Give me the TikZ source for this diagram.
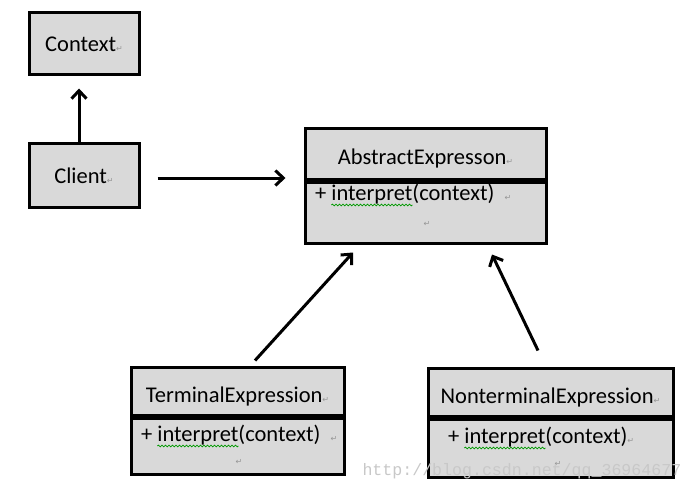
\documentclass[tikz,border=0pt]{standalone}
\usepackage{fontspec}
\setmainfont{Carlito}
\setmonofont{Liberation Mono}
\newfontfamily\markfont{DejaVu Sans}
\usetikzlibrary{arrows.meta,calc,decorations.pathmorphing}
\definecolor{boxgray}{RGB}{217,217,217}
\definecolor{markgray}{RGB}{150,150,150}
\definecolor{wmgray}{RGB}{200,200,200}
\newcommand{\pmark}{{\markfont\fontsize{8}{8}\selectfont\color{markgray}↵}}
% one member line: prefix, position, tail
\newcommand{\method}[3]{%
  \node[txt, anchor=base west] (#1plus) at #2 {+\kern0.23em};
  \node[txt, anchor=base west] (#1name) at (#1plus.base east) {interpret};
  \node[txt, anchor=base west] (#1args) at (#1name.base east) {(context)#3};
  \draw[wave] ([yshift=-5pt]#1name.base west) -- ([yshift=-5pt]#1name.base east);}
\begin{document}
\begin{tikzpicture}[x=1pt, y=-1pt, line width=3pt,
    cls/.style = {draw, fill=boxgray, inner sep=0pt, text height=18pt, text depth=2.4pt,
                  font=\fontsize{22.5}{27}\selectfont},
    head/.style = {cls, text height=23pt, text depth=1.4pt},
    txt/.style = {inner sep=0pt, outer sep=0pt, font=\fontsize{22.5}{27}\selectfont},
    arr/.style = {-{Straight Barb[length=8pt, width=15pt]}},
    wave/.style = {draw=green!60!black, line width=0.8pt, decorate,
                   decoration={snake, amplitude=0.8pt, segment length=3.5pt}},
    wmark/.style = {inner sep=0pt, text=wmgray, font=\ttfamily\fontsize{16.6}{18}\selectfont}]
  \useasboundingbox (0,0) rectangle (692,489);

  \node[cls, minimum width=110pt, minimum height=62pt] (context) at (84,44) {Context\pmark};
  \node[cls, minimum width=110pt, minimum height=63pt] (client) at (84,175.5) {Client\pmark};

  \node[head, minimum width=241pt, minimum height=50pt] (atitle) at (425.5,154) {AbstractExpresson\pmark};
  \node[cls, minimum width=241pt, minimum height=61pt, anchor=north] (abody) at (atitle.south) {};
  \method{a}{(315,200)}{\ \ \pmark}
  \node[inner sep=0pt] (aend) at (427,224) {\pmark};

  \node[head, minimum width=213pt, minimum height=48pt] (ttitle) at (237.5,391.5) {TerminalExpression\pmark};
  \node[cls, minimum width=213pt, minimum height=56pt, anchor=north] (tbody) at (ttitle.south) {};
  \method{t}{(141,441)}{\ \ \pmark}
  \node[inner sep=0pt] (tend) at (239,462) {\pmark};

  \node[head, minimum width=245pt, minimum height=48pt] (ntitle) at (550.5,392.5) {NonterminalExpression\pmark};
  \node[cls, minimum width=245pt, minimum height=58pt, anchor=north] (nbody) at (ntitle.south) {};
  \method{n}{(448,443)}{\pmark}
  \node[inner sep=0pt] (nend) at (558,464) {\pmark};

  % connectors
  \draw[arr, shorten >=12pt] ([xshift=-5pt]client.north) -- ([xshift=-5pt]context.south);
  \coordinate (cl) at ([yshift=-2.5pt]client.east);
  \draw[arr, shorten <=17pt, shorten >=18pt] (cl) -- (cl -| atitle.west);
  \draw[arr] ($(ttitle.north)+(17.5,-5.5)$) -- ($(abody.south)+(-72.5,8)$);
  \draw[arr] ($(ntitle.north)+(-12.5,-16.5)$) -- ($(abody.south)+(66.5,10)$);

  \node[wmark, anchor=base west] (url) at (361,475) {http://blog.csdn.net/qq\_36964677};
\end{tikzpicture}
\end{document}
